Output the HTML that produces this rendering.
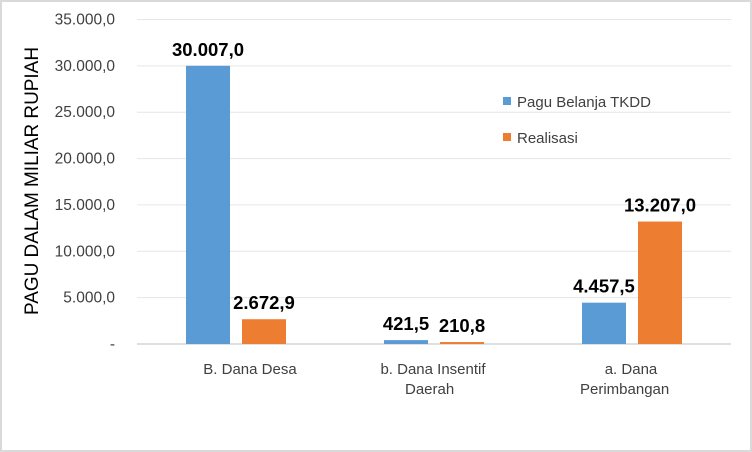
<!DOCTYPE html>
<html><head><meta charset="utf-8"><style>
body{margin:0;background:#fff}
svg{display:block;font-family:"Liberation Sans",sans-serif}
</style></head><body>
<svg id="chart" width="752" height="452">
<rect x="1" y="1" width="750" height="450" fill="#fff" stroke="#d9d9d9" stroke-width="2"/>
<g id="grid"></g><g id="bars"></g><g id="labels"></g>
<text transform="translate(38,181) rotate(-90)" text-anchor="middle" font-size="19" textLength="268" lengthAdjust="spacingAndGlyphs" fill="#000">PAGU DALAM MILIAR RUPIAH</text>
<g>
<rect x="503" y="97" width="8" height="8" fill="#5b9bd5"/>
<text x="517" y="107" font-size="15" fill="#404040">Pagu Belanja TKDD</text>
<rect x="503" y="133" width="8" height="8" fill="#ed7d31"/>
<text x="517" y="143" font-size="15" fill="#404040">Realisasi</text>
</g>
</svg>
<script>
const categories=[["B. Dana Desa"],["b. Dana Insentif","Daerah"],["a. Dana","Perimbangan"]];
const pagu=[30007.0,421.5,4457.5];
const realisasi=[2672.9,210.8,13207.0];
const ticks=[0,5000,10000,15000,20000,25000,30000,35000];
const tickLabels=["-","5.000,0","10.000,0","15.000,0","20.000,0","25.000,0","30.000,0","35.000,0"];
const valueLabels=[["30.007,0","421,5","4.457,5"],["2.672,9","210,8","13.207,0"]];
const NS="http://www.w3.org/2000/svg";
const x0=137,x1=731,y0=344,yTop=19.5,vmax=35000;
const y=v=>y0-(v/vmax)*(y0-yTop);
const bw=(x1-x0)/categories.length;
const cx=i=>x0+bw*(i+0.5);
function mk(t,a,p,txt){const e=document.createElementNS(NS,t);for(const k in a)e.setAttribute(k,a[k]);if(txt!==undefined)e.textContent=txt;p.appendChild(e);return e;}
const G=document.getElementById('grid'),B=document.getElementById('bars'),L=document.getElementById('labels');
ticks.forEach((t,i)=>{
 const ln=mk('line',{x1:x0,x2:x1,y1:y(t),y2:y(t),stroke:t===0?'#bfbfbf':'#e6e6e6','stroke-width':1},G);
 
 
 const tx=mk('text',{x:115,y:y(t)+5,'text-anchor':'end','font-size':15.5,fill:'#404040'},G,tickLabels[i]);
 
 
});
const series=[pagu,realisasi],colors=['#5b9bd5','#ed7d31'],offs=[-50,6];
series.forEach((s,si)=>s.forEach((v,i)=>{
 const r=mk('rect',{x:cx(i)+offs[si],y:y(v),width:44,height:y0-y(v),fill:colors[si]},B);
 
 
 const t=mk('text',{x:cx(i)+offs[si]+22,y:y(v)-10,'text-anchor':'middle','font-size':18.5,'font-weight':'bold',fill:'#000'},L,valueLabels[si][i]);
 
 
}));
categories.forEach((c,i)=>{
 c.forEach((line,j)=>{
  const t=mk('text',{x:cx(i)+(c.length>1?(j===0?-1:-28):14),y:374+j*20,'text-anchor':c.length>1&&j===1?'start':'middle','font-size':15,fill:'#404040'},L,line);
  if(c.length>1&&j===1){t.setAttribute('x',cx(i)-(i===1?29:52));}
  
  
 });
});
</script>
</body></html>
